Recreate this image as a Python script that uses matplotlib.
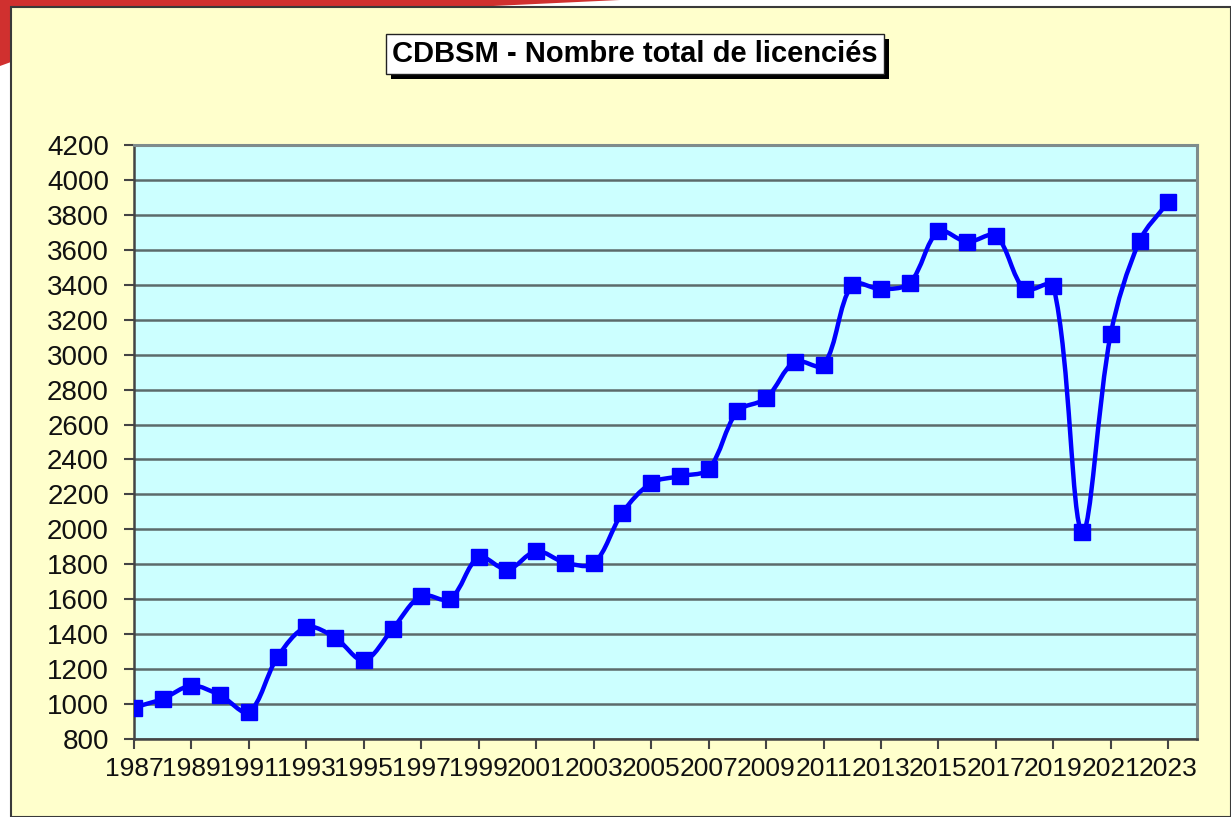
import numpy as np
import matplotlib.pyplot as plt
from matplotlib.path import Path
from matplotlib.patches import PathPatch, Rectangle, Polygon

years = list(range(1987, 2024))
licencies = [980, 1030, 1105, 1050, 955, 1270, 1440, 1380, 1250, 1430,
             1620, 1600, 1840, 1770, 1875, 1810, 1805, 2095, 2265, 2305,
             2345, 2675, 2750, 2960, 2940, 3400, 3375, 3410, 3705, 3645,
             3680, 3375, 3395, 1985, 3120, 3650, 3875]
tick_years = list(range(1987, 2024, 2))
y_ticks = list(range(800, 4201, 200))

plt.rcParams['font.family'] = ['Liberation Sans', 'DejaVu Sans']

fig = plt.figure(figsize=(12.31, 8.17), dpi=100, facecolor='white')
W, H = 1231.0, 817.0

# slide decoration + chart frame
red = Polygon([(0, 1), (620 / W, 1), (430 / W, 1 - 9 / H), (11 / W, 1 - 9 / H),
               (11 / W, 1 - 62 / H), (0, 1 - 66 / H)],
              closed=True, transform=fig.transFigure, facecolor='#d0302f',
              edgecolor='none', zorder=0)
fig.patches.append(red)
frame = Rectangle((11 / W, 0), 1 - 11 / W, 1 - 7 / H, transform=fig.transFigure,
                  facecolor='#ffffcc', edgecolor='#3a3a3a', lw=1.5, zorder=1)
fig.patches.append(frame)

ax = fig.add_axes([134 / W, 1 - 739 / H, (1197 - 134) / W, (739 - 145) / H])
ax.set_facecolor('#ccffff')
ax.set_zorder(2)
ax.set_xlim(1987, 2024)
ax.set_ylim(800, 4200)

# smoothed line: bezier control points worked out in pixel space,
# scaled by neighbouring segment lengths (close to Excel's smoothing)
pts = ax.transData.transform(np.column_stack([years, licencies]))
n = len(pts)
seg = np.hypot(*np.diff(pts, axis=0).T)
verts = [pts[0]]
codes = [Path.MOVETO]
for i in range(n - 1):
    p1, p2 = pts[i], pts[i + 1]
    if i > 0:
        t1 = pts[i + 1] - pts[i - 1]
        c1 = p1 + t1 * seg[i] / (seg[i - 1] + seg[i]) / 3.0
    else:
        c1 = p1 + (p2 - p1) / 3.0
    if i + 2 < n:
        t2 = pts[i + 2] - pts[i]
        c2 = p2 - t2 * seg[i] / (seg[i] + seg[i + 1]) / 3.0
    else:
        c2 = p2 - (p2 - p1) / 3.0
    verts += [c1, c2, p2]
    codes += [Path.CURVE4] * 3
verts = ax.transData.inverted().transform(np.array(verts))
ax.add_patch(PathPatch(Path(verts, codes), facecolor='none', edgecolor='#0000ff',
                       lw=3.2, zorder=3, capstyle='round', joinstyle='round'))
ax.plot(years, licencies, 's', color='#0000ff', markersize=12, zorder=4)

ax.set_yticks(y_ticks)
ax.set_xticks(tick_years)
ax.set_xticklabels([str(t) for t in tick_years])
ax.yaxis.grid(True, color='#5c6b6b', lw=1.8)
ax.set_axisbelow(True)

ax.tick_params(axis='y', direction='out', length=7, width=1.5, color='#444444',
               labelsize=20, pad=11, labelcolor='#111111')
ax.tick_params(axis='x', direction='out', length=7, width=1.5, color='#444444',
               labelsize=19, pad=6, labelcolor='#111111')
for s in ['left', 'bottom']:
    ax.spines[s].set_color('#444444')
    ax.spines[s].set_linewidth(1.8)
for s in ['top', 'right']:
    ax.spines[s].set_color('#7f8c8c')
    ax.spines[s].set_linewidth(2.2)

# title box with drop shadow
title = 'CDBSM - Nombre total de licenciés'
t = fig.text(635 / W, 1 - 54 / H, title, ha='center', va='center',
             fontsize=21, fontweight='bold', color='black', zorder=4,
             bbox=dict(boxstyle='square,pad=0.2', facecolor='white',
                       edgecolor='#222222', lw=1))
fig.canvas.draw()
bb = t.get_bbox_patch().get_window_extent(fig.canvas.get_renderer())
shadow = Rectangle((bb.x0 + 5, bb.y0 - 5), bb.width, bb.height, transform=None,
                   facecolor='black', edgecolor='none', zorder=3)
fig.patches.append(shadow)

fig.savefig('out.png', dpi=100, facecolor=fig.get_facecolor())
